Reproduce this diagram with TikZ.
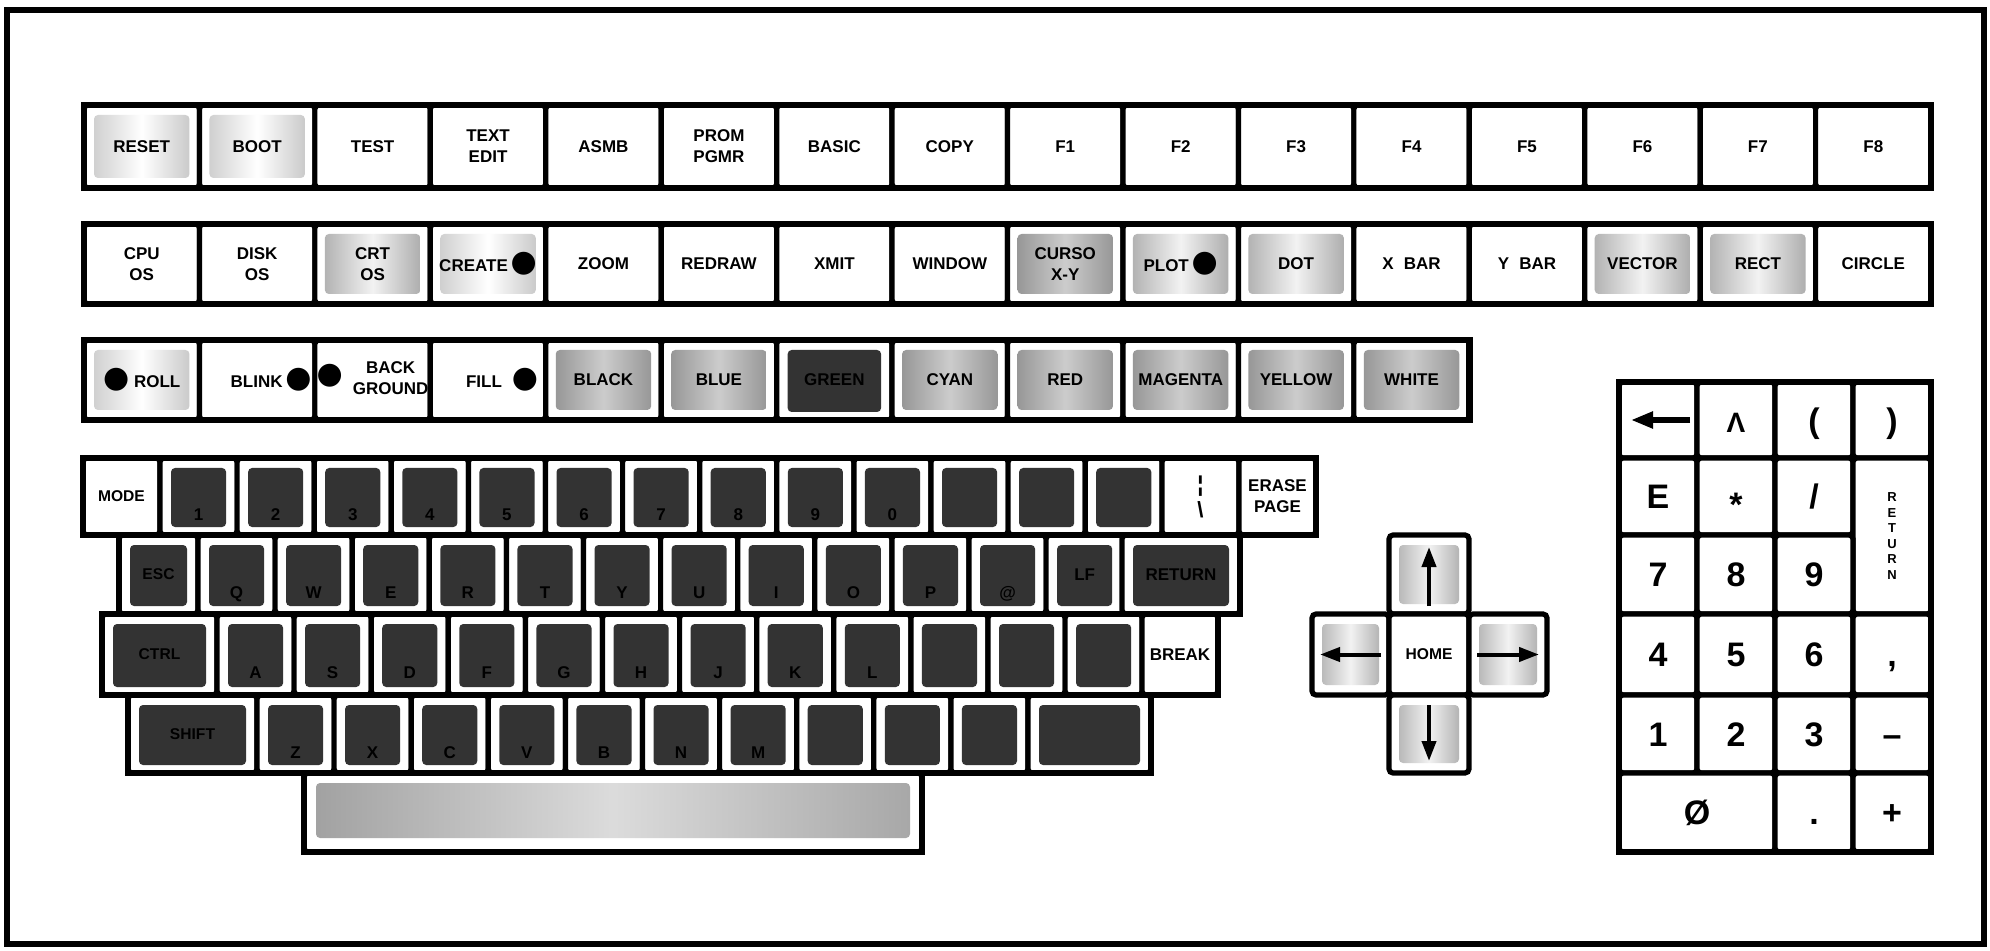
\documentclass[tikz,border=0pt]{standalone}
\usepackage{fontspec}
\setmainfont{Liberation Sans}
\newfontfamily\djv{DejaVu Sans}
\usetikzlibrary{arrows.meta,calc}
\newcommand\blt{{\djv\fontsize{15}{15}\selectfont ●}}
\newcommand\lw[1]{\smash{\raisebox{-12pt}{#1}}}
\newcommand\K[7]{\node[key,#6,minimum width={((#3)-(#2))*0.5pt},minimum height={((#5)-(#4))*0.5pt}] (#1) at ({((#2)+(#3))/2},{((#4)+(#5))/2}) {#7};}
\newcommand\TK[6]{\K{#1}{84+(#2)*115.44}{84+(#2)*115.44+115.44}{#3}{#4}{#5}{#6}}
\newcommand\MK[7]{\K{#1}{#2+(#3)*77.1}{#2+(#3)*77.1+77.1}{#4}{#5}{#6}{#7}}
\tikzset{
  key/.style={draw=black, fill=white, line width=2.6pt, rounded corners=2pt, inner sep=0pt, outer sep=0pt, align=center, font=\bfseries\fontsize{8.5}{10.5}\selectfont},
  pl/.style={},
  sm/.style={font=\bfseries\fontsize{7.8}{9.5}\selectfont},
  kp/.style={font=\bfseries\fontsize{17}{17}\selectfont, text height=12.2pt, text depth=0pt},
  rowframe/.style={draw=black, line width=3.2pt},
  vlt/.style={path picture={\shade[left color=gray!45, right color=gray!50, middle color=white] ($(path picture bounding box.south west)+(5pt,5pt)$) rectangle ($(path picture bounding box.north east)+(-5pt,-5pt)$);}},
  lt/.style={path picture={\shade[left color=gray!70, right color=gray!75, middle color=gray!10] ($(path picture bounding box.south west)+(5pt,5pt)$) rectangle ($(path picture bounding box.north east)+(-5pt,-5pt)$);}},
  md/.style={path picture={\shade[left color=gray!90, right color=gray!90, middle color=gray!40] ($(path picture bounding box.south west)+(5pt,5pt)$) rectangle ($(path picture bounding box.north east)+(-5pt,-5pt)$);}},
  dk/.style={path picture={\fill[black!80] ($(path picture bounding box.south west)+(5.5pt,4pt)$) rectangle ($(path picture bounding box.north east)+(-5.5pt,-5pt)$);}},
  sp/.style={path picture={\shade[left color=gray!75, right color=gray!70, middle color=gray!28] ($(path picture bounding box.south west)+(6pt,7pt)$) rectangle ($(path picture bounding box.north east)+(-6pt,-5pt)$);}},
  arr/.style={line width=2pt, -{Triangle[length=10pt,width=7pt]}},
}
\begin{document}
\begin{tikzpicture}[x=0.5pt,y=-0.5pt]
\useasboundingbox (0,0) rectangle (1990,951);
\fill[white] (0,0) rectangle (1990,951);
\draw[line width=3pt] (7,10) rectangle (1984,944);
% ---------- row 1
\TK{reset}{0}{105}{188}{vlt}{RESET}
\TK{boot}{1}{105}{188}{vlt}{BOOT}
\TK{test}{2}{105}{188}{pl}{TEST}
\TK{textedit}{3}{105}{188}{pl}{TEXT\\EDIT}
\TK{asmb}{4}{105}{188}{pl}{ASMB}
\TK{prom}{5}{105}{188}{pl}{PROM\\PGMR}
\TK{basic}{6}{105}{188}{pl}{BASIC}
\TK{copy}{7}{105}{188}{pl}{COPY}
\TK{f1}{8}{105}{188}{pl}{F1}
\TK{f2}{9}{105}{188}{pl}{F2}
\TK{f3}{10}{105}{188}{pl}{F3}
\TK{f4}{11}{105}{188}{pl}{F4}
\TK{f5}{12}{105}{188}{pl}{F5}
\TK{f6}{13}{105}{188}{pl}{F6}
\TK{f7}{14}{105}{188}{pl}{F7}
\TK{f8}{15}{105}{188}{pl}{F8}
\draw[rowframe] (reset.north west) rectangle (f8.south east);
% ---------- row 2
\TK{cpuos}{0}{224}{304}{pl}{CPU\\OS}
\TK{diskos}{1}{224}{304}{pl}{DISK\\OS}
\TK{crtos}{2}{224}{304}{lt}{CRT\\OS}
\TK{create}{3}{224}{304}{vlt}{CREATE\,\blt}
\TK{zoom}{4}{224}{304}{pl}{ZOOM}
\TK{redraw}{5}{224}{304}{pl}{REDRAW}
\TK{xmit}{6}{224}{304}{pl}{XMIT}
\TK{window}{7}{224}{304}{pl}{WINDOW}
\TK{cursor}{8}{224}{304}{md}{CURSO\\X-Y}
\TK{plot}{9}{224}{304}{lt}{PLOT\,\blt}
\TK{dot}{10}{224}{304}{lt}{DOT}
\TK{xbar}{11}{224}{304}{pl}{X\hspace{0.6em}BAR}
\TK{ybar}{12}{224}{304}{pl}{Y\hspace{0.6em}BAR}
\TK{vector}{13}{224}{304}{lt}{VECTOR}
\TK{rect}{14}{224}{304}{lt}{RECT}
\TK{circle}{15}{224}{304}{pl}{CIRCLE}
\draw[rowframe] (cpuos.north west) rectangle (circle.south east);
% ---------- row 3
\TK{roll}{0}{340}{420}{vlt}{\blt\ ROLL}
\TK{blink}{1}{340}{420}{pl}{\hspace{14pt}BLINK\,\blt}
\TK{back}{2}{340}{420}{pl}{\blt\hspace{5pt}\begin{tabular}{@{}c@{}}BACK\\GROUND\end{tabular}}
\TK{fill}{3}{340}{420}{pl}{\hspace{14pt}FILL\hspace{5pt}\blt}
\TK{black}{4}{340}{420}{md}{BLACK}
\TK{blue}{5}{340}{420}{md}{BLUE}
\TK{green}{6}{340}{420}{dk}{GREEN}
\TK{cyan}{7}{340}{420}{md}{CYAN}
\TK{red}{8}{340}{420}{md}{RED}
\TK{magenta}{9}{340}{420}{md}{MAGENTA}
\TK{yellow}{10}{340}{420}{md}{YELLOW}
\TK{white}{11}{340}{420}{md}{WHITE}
\draw[rowframe] (roll.north west) rectangle (white.south east);
% ---------- number row
\K{mode}{83}{160}{458}{535}{sm}{MODE}
\MK{n1}{160}{0}{458}{535}{dk}{\lw{1}}
\MK{n2}{160}{1}{458}{535}{dk}{\lw{2}}
\MK{n3}{160}{2}{458}{535}{dk}{\lw{3}}
\MK{n4}{160}{3}{458}{535}{dk}{\lw{4}}
\MK{n5}{160}{4}{458}{535}{dk}{\lw{5}}
\MK{n6}{160}{5}{458}{535}{dk}{\lw{6}}
\MK{n7}{160}{6}{458}{535}{dk}{\lw{7}}
\MK{n8}{160}{7}{458}{535}{dk}{\lw{8}}
\MK{n9}{160}{8}{458}{535}{dk}{\lw{9}}
\MK{n0}{160}{9}{458}{535}{dk}{\lw{0}}
\MK{n10}{160}{10}{458}{535}{dk}{}
\MK{n11}{160}{11}{458}{535}{dk}{}
\MK{n12}{160}{12}{458}{535}{dk}{}
\K{bar}{1162}{1239}{458}{535}{font=\bfseries\fontsize{11}{11}\selectfont}{¦\\[2pt]\textbackslash}
\K{erase}{1239}{1316}{458}{535}{pl}{ERASE\\PAGE}
\draw[rowframe] (mode.north west) rectangle (erase.south east);
% ---------- qwerty row
\K{esc}{119}{198}{535}{614}{dk,sm}{ESC}
\MK{q}{198}{0}{535}{614}{dk}{\lw{Q}}
\MK{w}{198}{1}{535}{614}{dk}{\lw{W}}
\MK{e}{198}{2}{535}{614}{dk}{\lw{E}}
\MK{r}{198}{3}{535}{614}{dk}{\lw{R}}
\MK{t}{198}{4}{535}{614}{dk}{\lw{T}}
\MK{y}{198}{5}{535}{614}{dk}{\lw{Y}}
\MK{u}{198}{6}{535}{614}{dk}{\lw{U}}
\MK{i}{198}{7}{535}{614}{dk}{\lw{I}}
\MK{o}{198}{8}{535}{614}{dk}{\lw{O}}
\MK{p}{198}{9}{535}{614}{dk}{\lw{P}}
\MK{at}{198}{10}{535}{614}{dk}{\lw{@}}
\MK{lf}{198}{11}{535}{614}{dk}{LF}
\K{ret}{1122}{1240}{535}{614}{dk}{RETURN}
\draw[rowframe] (esc.north west) rectangle (ret.south east);
% ---------- asdf row
\K{ctrl}{102}{217}{614}{695}{dk,sm}{CTRL}
\MK{a}{217}{0}{614}{695}{dk}{\lw{A}}
\MK{s}{217}{1}{614}{695}{dk}{\lw{S}}
\MK{d}{217}{2}{614}{695}{dk}{\lw{D}}
\MK{f}{217}{3}{614}{695}{dk}{\lw{F}}
\MK{g}{217}{4}{614}{695}{dk}{\lw{G}}
\MK{h}{217}{5}{614}{695}{dk}{\lw{H}}
\MK{j}{217}{6}{614}{695}{dk}{\lw{J}}
\MK{k}{217}{7}{614}{695}{dk}{\lw{K}}
\MK{l}{217}{8}{614}{695}{dk}{\lw{L}}
\MK{a9}{217}{9}{614}{695}{dk}{}
\MK{a10}{217}{10}{614}{695}{dk}{}
\MK{a11}{217}{11}{614}{695}{dk}{}
\K{break}{1142}{1218}{614}{695}{pl}{BREAK}
\draw[rowframe] (ctrl.north west) rectangle (break.south east);
% ---------- zxcv row
\K{lshift}{128}{257}{695}{773}{dk,sm}{SHIFT}
\MK{z}{257}{0}{695}{773}{dk}{\lw{Z}}
\MK{x}{257}{1}{695}{773}{dk}{\lw{X}}
\MK{c}{257}{2}{695}{773}{dk}{\lw{C}}
\MK{v}{257}{3}{695}{773}{dk}{\lw{V}}
\MK{b}{257}{4}{695}{773}{dk}{\lw{B}}
\MK{n}{257}{5}{695}{773}{dk}{\lw{N}}
\MK{m}{257}{6}{695}{773}{dk}{\lw{M}}
\MK{comma}{257}{7}{695}{773}{dk}{}
\MK{period}{257}{8}{695}{773}{dk}{}
\MK{slash}{257}{9}{695}{773}{dk}{}
\K{rshift}{1028}{1151}{695}{773}{dk}{}
\draw[rowframe] (lshift.north west) rectangle (rshift.south east);
% ---------- space
\K{space}{304}{922}{773}{852}{sp}{}
\draw[rowframe] (space.north west) rectangle (space.south east);
% ---------- cursor cross
\K{up}{1389}{1469}{535}{614}{lt}{}
\K{left}{1312}{1389}{614}{695}{lt}{}
\K{home}{1389}{1469}{614}{695}{sm}{HOME}
\K{right}{1469}{1547}{614}{695}{lt}{}
\K{down}{1389}{1469}{695}{773}{lt}{}
\draw[arr] ([yshift=4pt]up.south) -- ([yshift=-6pt]up.north);
\draw[arr] ([yshift=-5pt]down.north) -- ([yshift=6pt]down.south);
\draw[arr] ([xshift=-4pt]left.east) -- ([xshift=4pt]left.west);
\draw[arr] ([xshift=4pt]right.west) -- ([xshift=-4pt]right.east);
% ---------- keypad
\K{kbs}{1619}{1697}{382}{458}{kp}{}
\K{kcaret}{1697}{1775}{382}{458}{kp}{\fontsize{14}{14}\selectfont Λ}
\K{klp}{1775}{1853}{382}{458}{kp}{(}
\K{krp}{1853}{1931}{382}{458}{kp}{)}
\K{ke}{1619}{1697}{458}{535}{kp}{E}
\K{kstar}{1697}{1775}{458}{535}{kp}{\raisebox{-4pt}{*}}
\K{kslash}{1775}{1853}{458}{535}{kp}{/}
\K{kret}{1853}{1931}{458}{614}{font=\bfseries\fontsize{6.5}{7.8}\selectfont}{R\\E\\T\\U\\R\\N}
\K{k7}{1619}{1697}{535}{614}{kp}{7}
\K{k8}{1697}{1775}{535}{614}{kp}{8}
\K{k9}{1775}{1853}{535}{614}{kp}{9}
\K{k4}{1619}{1697}{614}{695}{kp}{4}
\K{k5}{1697}{1775}{614}{695}{kp}{5}
\K{k6}{1775}{1853}{614}{695}{kp}{6}
\K{kcomma}{1853}{1931}{614}{695}{kp}{,}
\K{k1}{1619}{1697}{695}{773}{kp}{1}
\K{k2}{1697}{1775}{695}{773}{kp}{2}
\K{k3}{1775}{1853}{695}{773}{kp}{3}
\K{kminus}{1853}{1931}{695}{773}{kp}{–}
\K{k0}{1619}{1775}{773}{852}{kp}{Ø}
\K{kdot}{1775}{1853}{773}{852}{kp}{.}
\K{kplus}{1853}{1931}{773}{852}{kp}{+}
\draw[rowframe] (kbs.north west) rectangle (kplus.south east);
\draw[line width=2.6pt, -{Triangle[length=11pt,width=8pt]}] ([xshift=-3.5pt]kbs.east) -- ([xshift=6pt]kbs.west);
\end{tikzpicture}
\end{document}
